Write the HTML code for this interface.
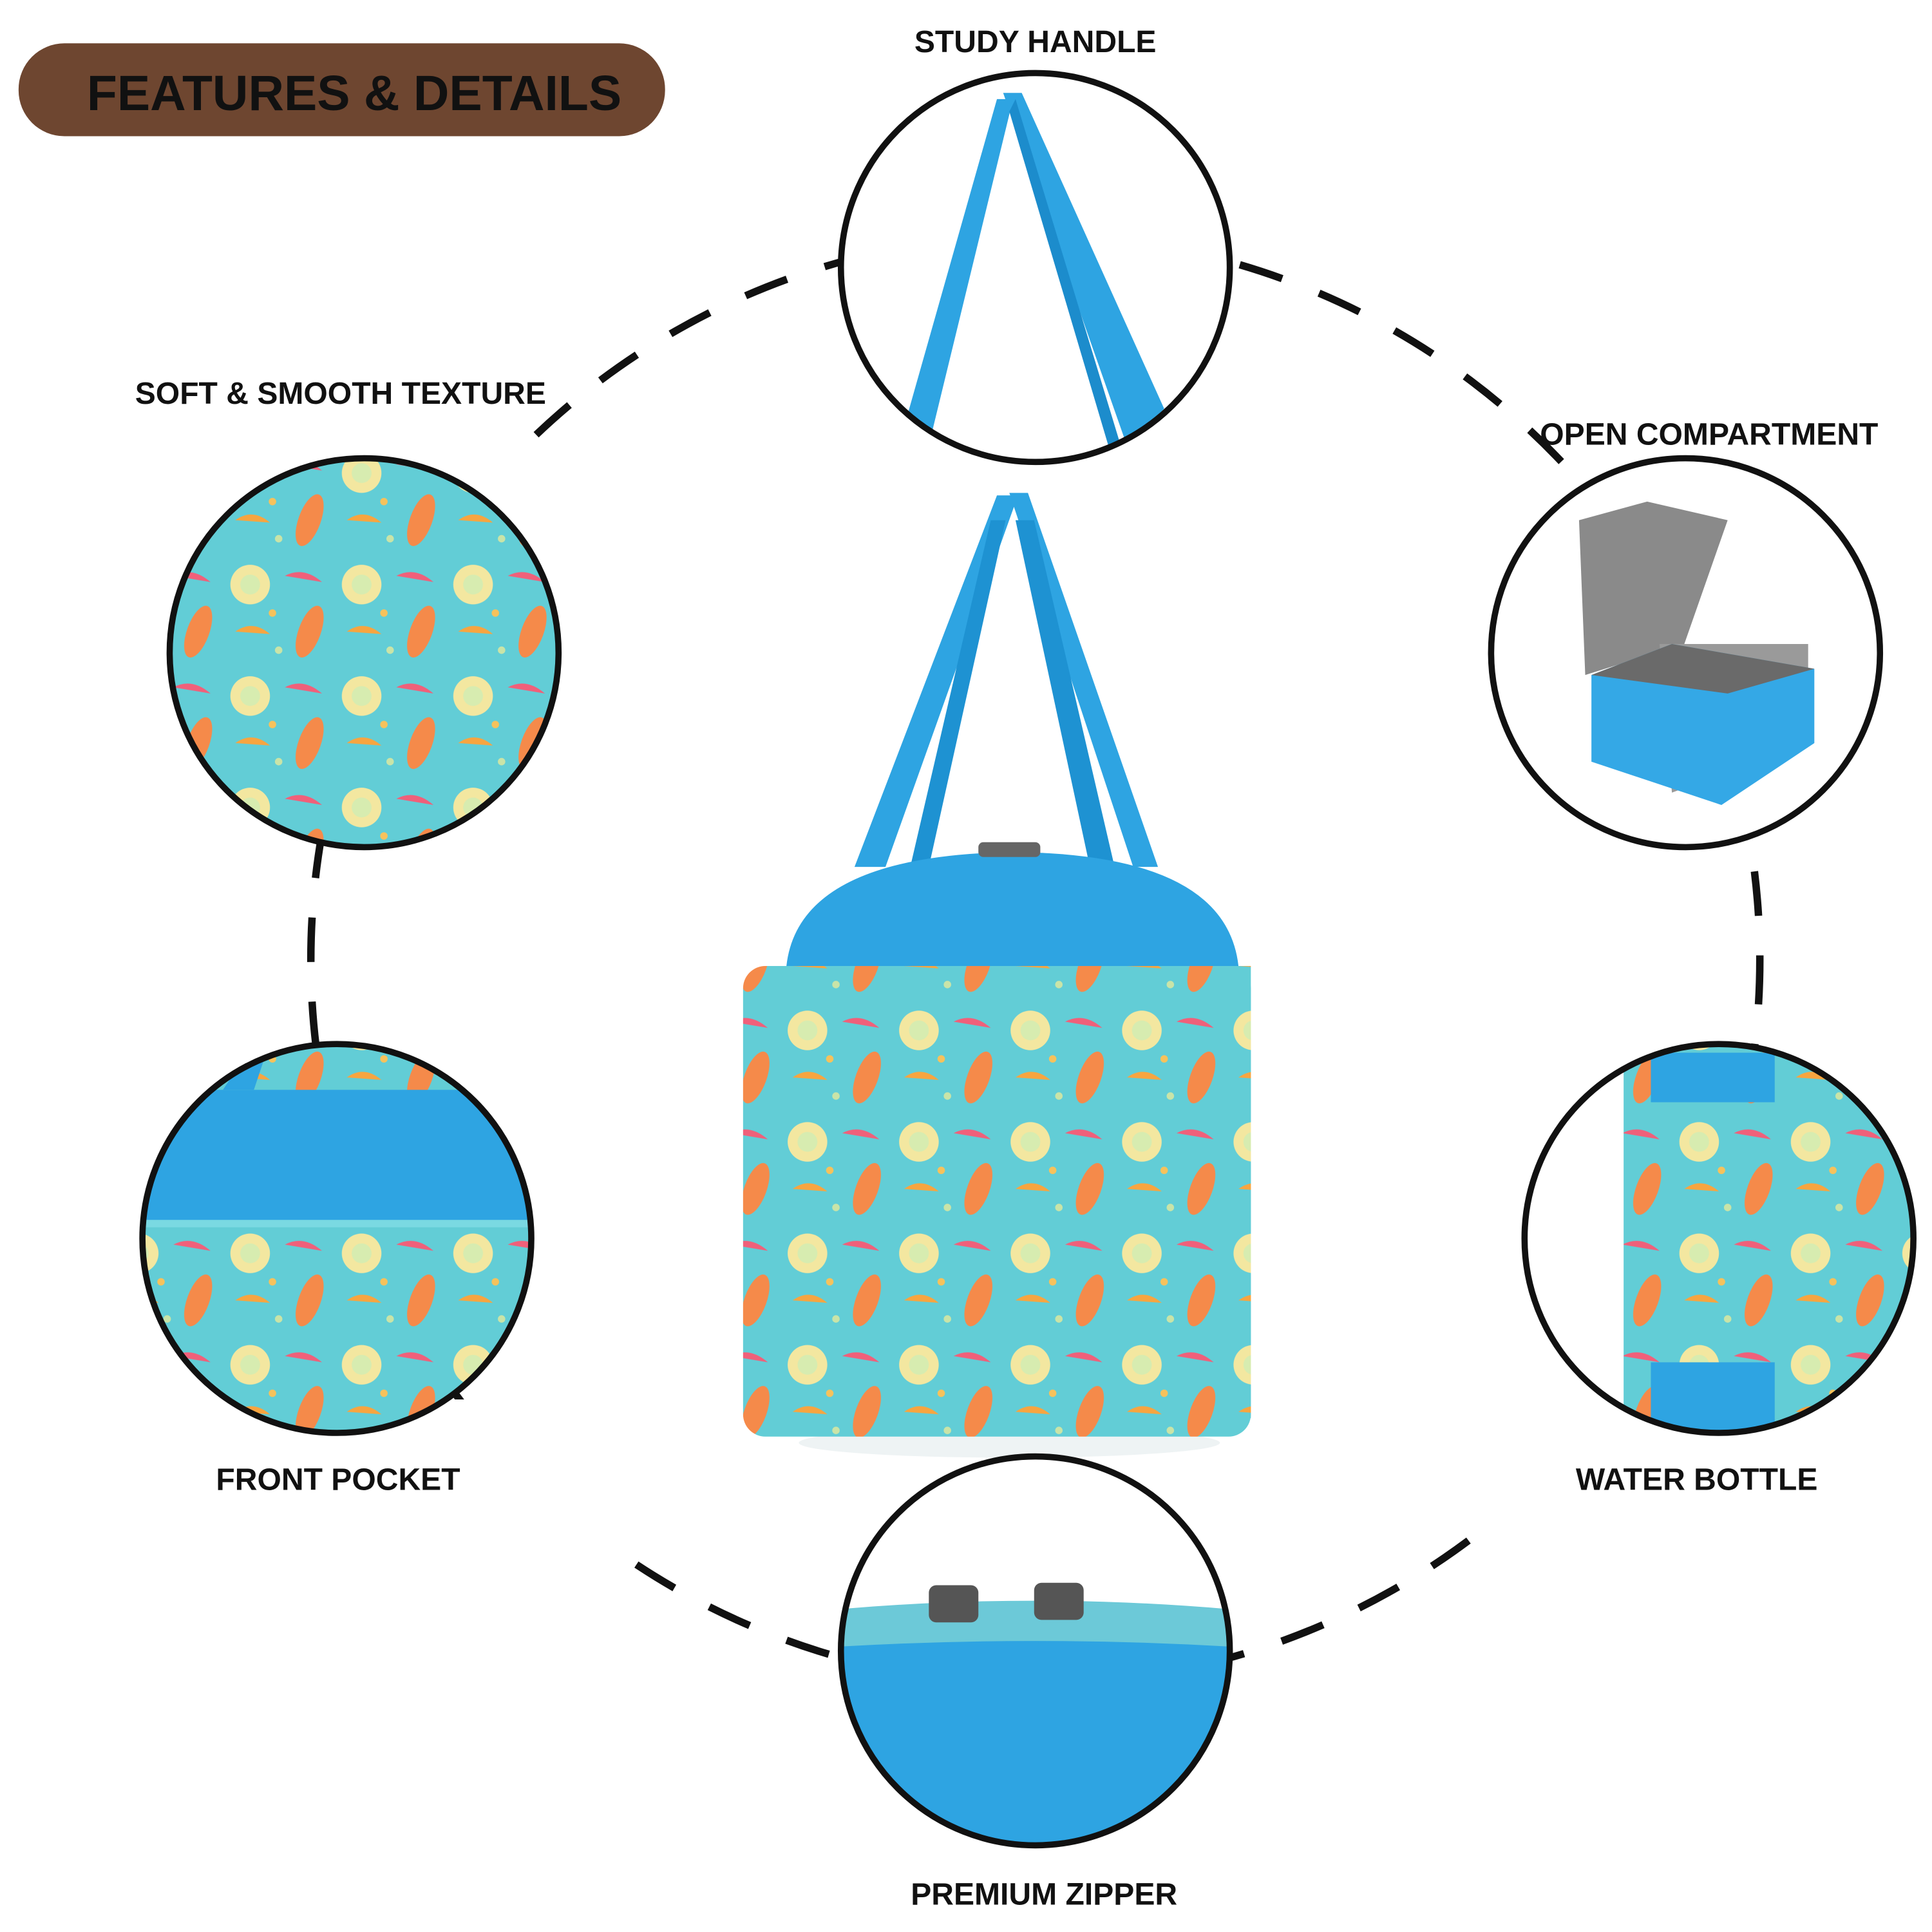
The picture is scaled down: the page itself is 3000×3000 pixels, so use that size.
<!DOCTYPE html>
<html><head><meta charset="utf-8"><style>
html,body{margin:0;padding:0;background:#fff;}
svg{display:block}
text{font-family:"Liberation Sans",sans-serif;font-weight:bold;fill:#111}
</style></head><body>
<svg width="3000" height="3000" viewBox="0 0 1560 1560" xmlns="http://www.w3.org/2000/svg">
<defs>
<clipPath id="c1"><circle cx="836" cy="216" r="155"/></clipPath>
<clipPath id="c3"><circle cx="1361" cy="527" r="155"/></clipPath>
<clipPath id="c4"><circle cx="272" cy="1000" r="155"/></clipPath>
<clipPath id="c5"><circle cx="1388" cy="1000" r="155"/></clipPath>
<clipPath id="c6"><circle cx="836" cy="1333" r="155"/></clipPath>
<pattern id="pat" width="90" height="90" patternUnits="userSpaceOnUse">
<rect width="90" height="90" fill="#62cdd6"/>
<circle cx="22" cy="22" r="16" fill="#f3e7a0"/><circle cx="22" cy="22" r="8" fill="#d7ecb0"/>
<path d="M50 15 q15 -8 30 5 z" fill="#f0607a"/>
<ellipse cx="70" cy="60" rx="9" ry="22" fill="#f58a4a" transform="rotate(20 70 60)"/>
<path d="M10 60 q14 -10 28 2 z" fill="#f7a540"/>
<circle cx="45" cy="75" r="3" fill="#c9e4a8"/><circle cx="40" cy="45" r="3" fill="#f6c25c"/>
</pattern>
</defs>

<!-- dashed big circle -->
<circle cx="836" cy="775" r="585" fill="none" stroke="#111" stroke-width="6" stroke-dasharray="36 32"/>
<!-- gaps -->
<rect x="340" y="1130" width="165" height="135" fill="#fff"/>
<rect x="1190" y="1140" width="110" height="120" fill="#fff"/>
<rect x="370" y="355" width="60" height="60" fill="#fff"/>

<!-- title -->
<rect x="15" y="35" width="522" height="75" rx="37" fill="#6e4630"/>
<text x="286" y="89" font-size="40" text-anchor="middle">FEATURES &amp; DETAILS</text>

<!-- center bag -->
<path d="M690 700 L805 400 L822 400 L715 700 Z" fill="#2ea4e2"/>
<path d="M815 398 L830 398 L935 700 L915 700 Z" fill="#2ea4e2"/>
<path d="M735 700 L800 420 L812 420 L750 700Z" fill="#1e92d2"/>
<path d="M880 700 L820 420 L835 420 L900 700Z" fill="#1e92d2"/>
<ellipse cx="815" cy="1165" rx="170" ry="12" fill="#eef3f4"/>
<path d="M635 780 Q645 690 820 688 Q990 690 1000 780 Z" fill="#2ea4e2"/>
<rect x="600" y="780" width="410" height="380" rx="18" fill="url(#pat)"/>
<rect x="625" y="780" width="385" height="365" fill="url(#pat)"/>
<rect x="790" y="680" width="50" height="12" rx="4" fill="#666"/>

<!-- circles -->
<g>
<circle cx="836" cy="216" r="157" fill="#fff"/>
<g clip-path="url(#c1)">
<path d="M720 380 L805 80 L818 80 L745 380 Z" fill="#2ea4e2"/>
<path d="M810 75 L825 75 L940 330 L910 360 Z" fill="#2ea4e2"/>
<path d="M820 80 L905 360 L895 360 L815 90Z" fill="#1c8ccc"/>
</g>
<circle cx="836" cy="216" r="157" fill="none" stroke="#111" stroke-width="5"/>
</g>
<g>
<circle cx="294" cy="527" r="157" fill="url(#pat)"/>
<circle cx="294" cy="527" r="157" fill="none" stroke="#111" stroke-width="5"/>
</g>
<g>
<circle cx="1361" cy="527" r="157" fill="#fff"/>
<g clip-path="url(#c3)">
<path d="M1275 420 L1330 405 L1395 420 L1360 520 L1280 545 Z" fill="#8a8a8a"/>
<path d="M1340 520 L1460 520 L1460 600 L1350 640 Z" fill="#9a9a9a"/>
<path d="M1285 545 L1350 520 L1465 540 L1465 600 L1390 650 L1285 615 Z" fill="#34a8e6"/>
<path d="M1285 545 L1350 520 L1465 540 L1395 560 Z" fill="#6a6a6a"/>
</g>
<circle cx="1361" cy="527" r="157" fill="none" stroke="#111" stroke-width="5"/>
</g>
<g>
<circle cx="272" cy="1000" r="157" fill="url(#pat)"/>
<g clip-path="url(#c4)">
<rect x="110" y="880" width="330" height="110" fill="#2ea4e2"/>
<path d="M180 880 L200 850 L215 850 L205 880Z" fill="#2ea4e2"/>
<rect x="110" y="985" width="330" height="6" fill="#7ad9e2"/>
</g>
<circle cx="272" cy="1000" r="157" fill="none" stroke="#111" stroke-width="5"/>
</g>
<g>
<circle cx="1388" cy="1000" r="157" fill="url(#pat)"/>
<g clip-path="url(#c5)">
<rect x="1231" y="843" width="80" height="320" fill="#fff"/>
<rect x="1333" y="850" width="100" height="40" fill="#2ea4e2"/>
<rect x="1333" y="1100" width="100" height="60" fill="#2ea4e2"/>
</g>
<circle cx="1388" cy="1000" r="157" fill="none" stroke="#111" stroke-width="5"/>
</g>
<g>
<circle cx="836" cy="1333" r="157" fill="#fff"/>
<g clip-path="url(#c6)">
<rect x="670" y="1300" width="340" height="200" fill="#2ea4e2"/>
<path d="M670 1300 Q836 1285 1000 1300 L1000 1330 Q836 1320 670 1330Z" fill="#6cc9d8"/>
<rect x="750" y="1280" width="40" height="30" rx="6" fill="#555"/>
<rect x="835" y="1278" width="40" height="30" rx="6" fill="#555"/>
</g>
<circle cx="836" cy="1333" r="157" fill="none" stroke="#111" stroke-width="5"/>
</g>

<!-- labels -->
<text x="836" y="42" font-size="25" text-anchor="middle">STUDY HANDLE</text>
<text x="275" y="326" font-size="25" text-anchor="middle">SOFT &amp; SMOOTH TEXTURE</text>
<text x="1380" y="359" font-size="25" text-anchor="middle">OPEN COMPARTMENT</text>
<text x="273" y="1203" font-size="25" text-anchor="middle">FRONT POCKET</text>
<text x="1370" y="1203" font-size="25" text-anchor="middle">WATER BOTTLE</text>
<text x="843" y="1538" font-size="25" text-anchor="middle">PREMIUM ZIPPER</text>
</svg>
</body></html>
